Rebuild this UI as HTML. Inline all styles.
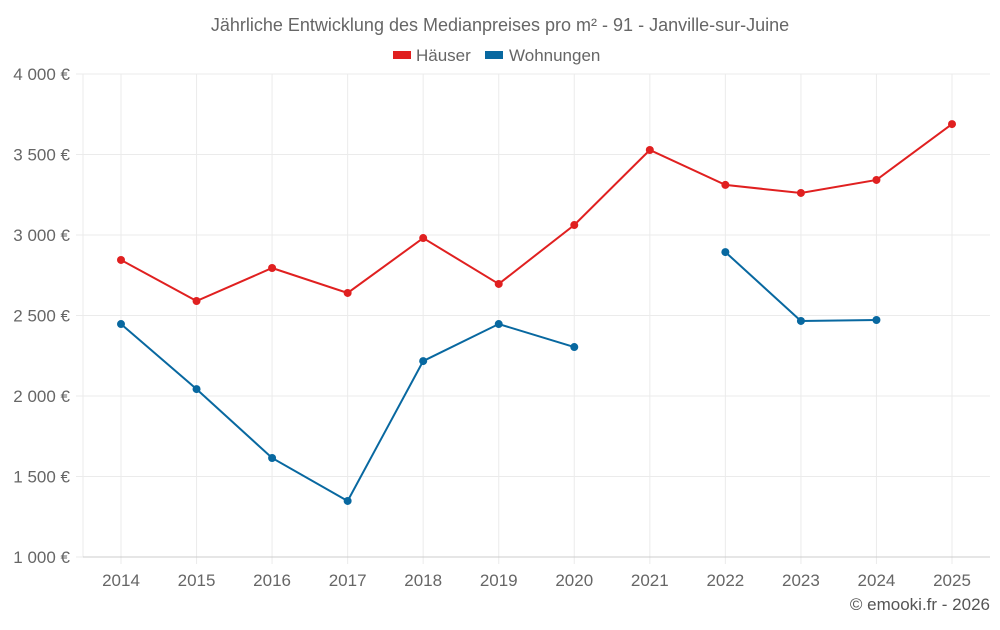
<!DOCTYPE html>
<html><head><meta charset="utf-8"><style>
body{margin:0;background:#fff;font-family:"Liberation Sans",sans-serif}
svg text{font-family:"Liberation Sans",sans-serif}
</style></head><body>
<svg id="c" width="1000" height="625" xmlns="http://www.w3.org/2000/svg">
<text x="500" y="31" text-anchor="middle" font-size="18" fill="#666">Jährliche Entwicklung des Medianpreises pro m² - 91 - Janville-sur-Juine</text>
<g><rect x="393" y="51" width="18" height="8" fill="#e02020"/><text x="416" y="61" font-size="17" fill="#666">Häuser</text></g>
<g><rect x="485" y="51" width="18" height="8" fill="#0868a0"/><text x="509" y="61" font-size="17" fill="#666">Wohnungen</text></g>
<g id="grid"></g><g id="series"></g>
<text x="990" y="610" text-anchor="end" font-size="17" fill="#555">© emooki.fr - 2026</text>
</svg>
<script>
const years=["2014","2015","2016","2017","2018","2019","2020","2021","2022","2023","2024","2025"];
const haeuser=[2845,2590,2795,2640,2981,2696,3062,3528,3311,3261,3342,3689];
const wohnungen=[2447,2043,1615,1348,2217,2447,2304,null,2894,2466,2472,null];
const yTicks=[1000,1500,2000,2500,3000,3500,4000];
const yLabels=["1 000 €","1 500 €","2 000 €","2 500 €","3 000 €","3 500 €","4 000 €"];
const L=83,R=990,T=74,B=557,ns="http://www.w3.org/2000/svg";
const x=i=>121+i*(952-121)/(years.length-1);
const y=v=>B-(v-1000)/3000*(B-T);
function el(t,a,p){const e=document.createElementNS(ns,t);for(const k in a)e.setAttribute(k,a[k]);p.appendChild(e);return e;}
const g=document.getElementById('grid'),s=document.getElementById('series');
yTicks.forEach((v,i)=>{
 const ln=el('line',{x1:76,x2:R,y1:y(v),y2:y(v),stroke:'#ebebeb'},g);
 
 
 const t=el('text',{x:70,y:y(v)+6,'text-anchor':'end','font-size':17,fill:'#666'},g);t.textContent=yLabels[i];
 
 
});
el('line',{x1:L,x2:L,y1:T,y2:B,stroke:'#ebebeb'},g);
years.forEach((yr,i)=>{
 const ln=el('line',{x1:x(i),x2:x(i),y1:T,y2:B+7,stroke:'#ebebeb'},g);
 
 
 const t=el('text',{x:x(i),y:586,'text-anchor':'middle','font-size':17,fill:'#666'},g);t.textContent=yr;
 
 
});
el('line',{x1:L,x2:R,y1:B,y2:B,stroke:'#ccc'},g);
function draw(data,col,name){
 let d='',pen=false;
 data.forEach((v,i)=>{if(v==null){pen=false;return;}d+=(pen?'L':'M')+x(i)+','+y(v);pen=true;});
 const p=el('path',{d:d,fill:'none',stroke:col,'stroke-width':2},s);
 
 
 data.forEach((v,i)=>{if(v==null)return;
  const c=el('circle',{cx:x(i),cy:y(v),r:4,fill:col},s);
  
  
 });
}
draw(haeuser,'#e02020','haeuser');
draw(wohnungen,'#0868a0','wohnungen');
</script>
</body></html>
